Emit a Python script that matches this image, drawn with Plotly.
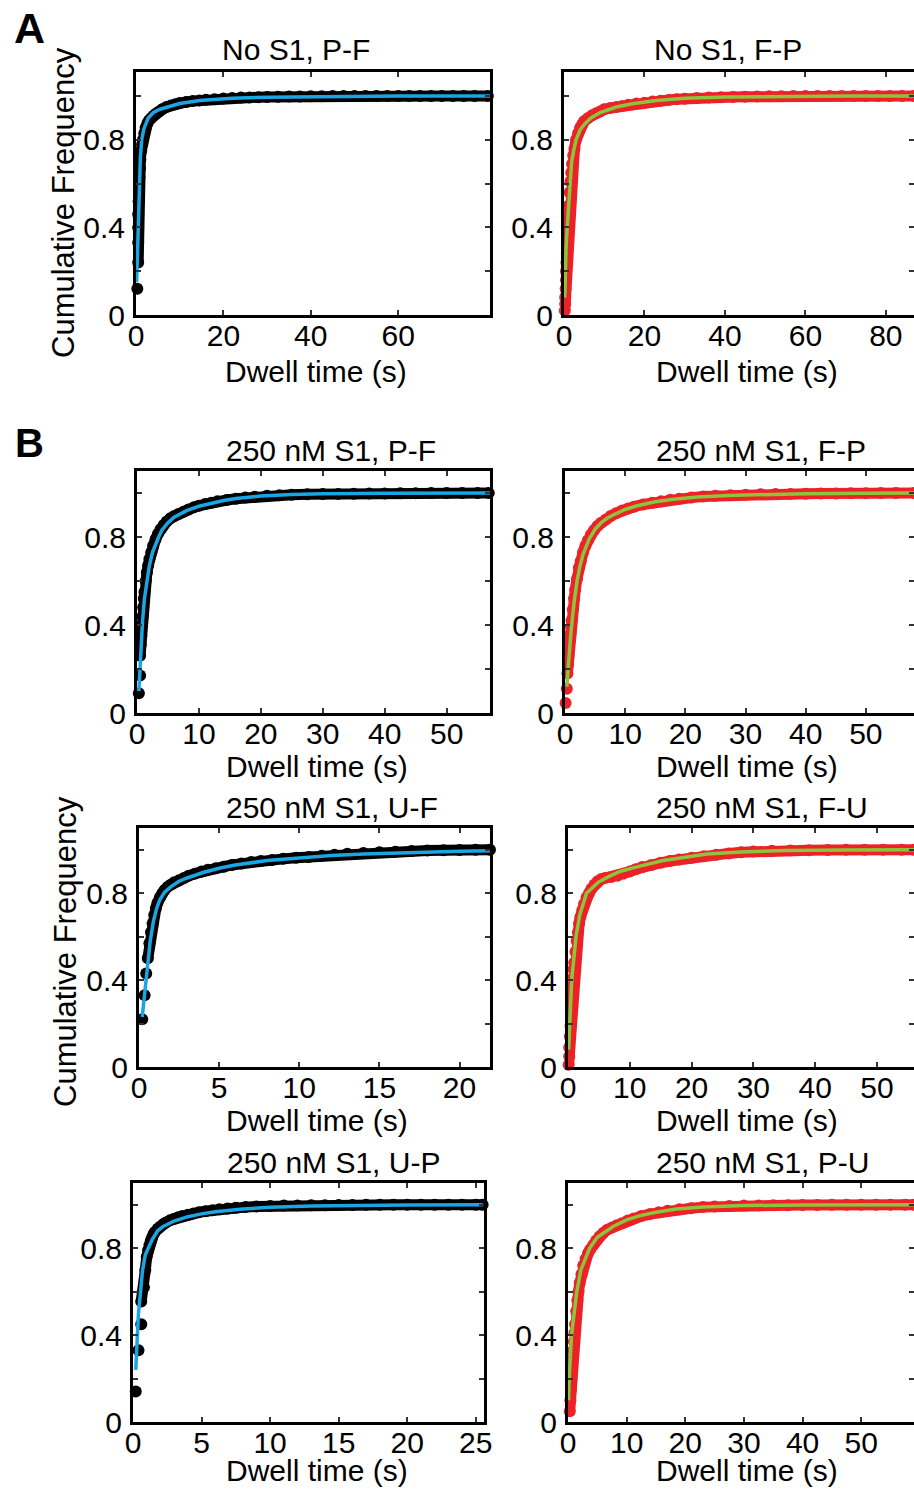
import plotly.graph_objects as go

W, H = 914, 1489
FONT = "Arial, 'Liberation Sans', Helvetica, sans-serif"

# ------------------------- data -------------------------
# A: No S1, P-F
a_pf_x = [0.3, 0.5, 0.5, 0.5, 0.5, 0.6, 0.7, 0.8, 0.9, 1.0,
          1.2, 1.4, 1.6, 1.9, 2.2, 2.6, 3.0, 3.5, 4.0, 4.6,
          5.3, 6.0, 7.0, 8.0, 9.0, 10, 11.5, 13, 14.5, 16,
          18, 20, 22, 24, 26, 28, 30, 32.5, 35, 37.5,
          40, 42.5, 45, 47.5, 50, 52.5, 55, 57.5, 60, 62.5,
          65, 67.5, 70, 72.5, 75, 77.5, 80.5]
a_pf_y = [0.12, 0.24, 0.33, 0.40, 0.46, 0.52, 0.58, 0.63, 0.67, 0.71,
          0.75, 0.78, 0.80, 0.83, 0.855, 0.875, 0.89, 0.90, 0.91, 0.92,
          0.93, 0.94, 0.95, 0.957, 0.963, 0.968, 0.973, 0.977, 0.98, 0.983,
          0.986, 0.989, 0.991, 0.993, 0.994, 0.995, 0.996, 0.997, 0.998, 0.998,
          0.999, 0.999, 1.0, 1.0, 1.0, 1.0, 1.0, 1.0, 1.0, 1.0,
          1.0, 1.0, 1.0, 1.0, 1.0, 1.0, 1.0]
a_pf_fit_x = [0.15, 0.35, 0.5, 0.7, 1.0, 1.3, 1.8, 2.8, 4.0, 5.5, 7.0, 10, 14.6, 22, 30, 45, 60, 81]
a_pf_fit_y = [0.15, 0.30, 0.42, 0.60, 0.72, 0.80, 0.85, 0.90, 0.925, 0.94, 0.95, 0.966, 0.98, 0.99, 0.995, 0.999, 1.0, 1.0]

# A: No S1, F-P
a_fp_x = [0.2, 0.3, 0.3, 0.4, 0.5, 0.5, 0.6, 0.7, 0.8, 0.9,
          1.0, 1.1, 1.2, 1.4, 1.6, 1.8, 2.0, 2.3, 2.6, 3.0,
          3.5, 4.0, 4.5, 5.0, 6.0, 7.0, 8.0, 9.0, 10, 11.5,
          13, 14.5, 16, 18, 20, 22, 24, 26, 28, 30,
          33, 36, 39, 42, 45, 48, 51, 54, 57, 60,
          63, 66, 69, 72, 75, 78, 81, 84, 87]
a_fp_y = [0.02, 0.05, 0.08, 0.12, 0.16, 0.20, 0.24, 0.28, 0.33, 0.38,
          0.42, 0.46, 0.50, 0.56, 0.61, 0.65, 0.69, 0.73, 0.76, 0.80,
          0.83, 0.855, 0.87, 0.885, 0.90, 0.912, 0.922, 0.93, 0.94, 0.945,
          0.95, 0.955, 0.96, 0.966, 0.97, 0.975, 0.979, 0.982, 0.985, 0.988,
          0.991, 0.993, 0.995, 0.996, 0.997, 0.998, 0.999, 0.999, 1.0, 1.0,
          1.0, 1.0, 1.0, 1.0, 1.0, 1.0, 1.0, 1.0, 1.0]
a_fp_fit_x = [0.2, 0.3, 0.5, 0.8, 1.1, 1.4, 1.9, 2.4, 3.0, 4.0, 5.0, 6.7, 9.0, 13, 17, 23, 30, 40, 55, 70, 87]
a_fp_fit_y = [0.08, 0.2, 0.3, 0.4, 0.5, 0.6, 0.7, 0.75, 0.8, 0.845, 0.87, 0.9, 0.925, 0.95, 0.965, 0.98, 0.99, 0.996, 0.999, 1.0, 1.0]

# B: 250 nM S1, P-F
b_pf_x = [0.3, 0.5, 0.5, 0.6, 0.7, 0.8, 0.9, 1.0, 1.1, 1.2,
          1.4, 1.6, 1.8, 2.0, 2.3, 2.6, 3.0, 3.4, 3.8, 4.3,
          4.8, 5.4, 6.0, 6.7, 7.5, 8.3, 9.2, 10, 11, 12,
          13, 14.5, 16, 17.5, 19, 21, 23, 25, 27.5, 30,
          32.5, 35, 37.5, 40, 42.5, 45, 47.5, 50, 52.5, 55,
          56.8]
b_pf_y = [0.09, 0.17, 0.26, 0.31, 0.35, 0.40, 0.44, 0.48, 0.52, 0.55,
          0.60, 0.64, 0.67, 0.70, 0.73, 0.76, 0.79, 0.815, 0.835, 0.855,
          0.87, 0.885, 0.895, 0.905, 0.915, 0.925, 0.935, 0.942, 0.95, 0.956,
          0.962, 0.968, 0.974, 0.979, 0.983, 0.987, 0.99, 0.992, 0.994, 0.995,
          0.996, 0.997, 0.998, 0.998, 0.999, 0.999, 1.0, 1.0, 1.0, 1.0,
          1.0]
b_pf_fit_x = [0.3, 0.6, 0.9, 1.2, 1.6, 2.0, 2.5, 3.0, 3.5, 4.0, 5.0, 6.0, 7.0, 8.0, 10, 12, 14, 16, 20, 25, 30, 40, 57]
b_pf_fit_y = [0.1, 0.3, 0.42, 0.52, 0.61, 0.67, 0.73, 0.77, 0.80, 0.83, 0.865, 0.89, 0.907, 0.92, 0.94, 0.955, 0.966, 0.975, 0.986, 0.993, 0.997, 0.999, 1.0]

# B: 250 nM S1, F-P
b_fp_x = [0.1, 0.3, 0.4, 0.5, 0.6, 0.7, 0.8, 0.9, 1.0, 1.1,
          1.3, 1.5, 1.7, 2.0, 2.3, 2.6, 3.0, 3.4, 3.8, 4.3,
          4.8, 5.4, 6.0, 6.8, 7.6, 8.5, 9.5, 10.5, 11.5, 13,
          14.5, 16, 17.5, 19, 21, 23, 25, 27.5, 30, 32.5,
          35, 37.5, 40, 42.5, 45, 47.5, 50, 52.5, 55, 58]
b_fp_y = [0.045, 0.11, 0.18, 0.22, 0.26, 0.30, 0.33, 0.36, 0.39, 0.42,
          0.47, 0.52, 0.56, 0.61, 0.66, 0.69, 0.73, 0.76, 0.785, 0.81,
          0.83, 0.85, 0.865, 0.88, 0.895, 0.908, 0.92, 0.93, 0.938, 0.948,
          0.956, 0.963, 0.969, 0.974, 0.979, 0.984, 0.987, 0.99, 0.992, 0.994,
          0.995, 0.996, 0.997, 0.998, 0.998, 0.999, 0.999, 1.0, 1.0, 1.0]
b_fp_fit_x = [0.3, 0.6, 1.0, 1.5, 2.0, 2.5, 3.0, 4.0, 5.0, 6.0, 7.0, 8.0, 10, 12, 15, 18, 22, 27, 33, 40, 50, 58]
b_fp_fit_y = [0.12, 0.24, 0.37, 0.5, 0.6, 0.67, 0.72, 0.79, 0.835, 0.865, 0.885, 0.9, 0.925, 0.942, 0.96, 0.972, 0.982, 0.989, 0.994, 0.997, 0.999, 1.0]

# B: 250 nM S1, U-F
b_uf_x = [0.2, 0.35, 0.45, 0.55, 0.65, 0.75, 0.85, 0.95, 1.05, 1.15,
          1.3, 1.45, 1.6, 1.8, 2.0, 2.2, 2.5, 2.8, 3.1, 3.5,
          3.9, 4.3, 4.8, 5.3, 5.8, 6.4, 7.0, 7.6, 8.3, 9.0,
          9.8, 10.6, 11.4, 12.2, 13, 14, 15, 16, 17, 18,
          19, 20, 21, 21.9]
b_uf_y = [0.22, 0.33, 0.43, 0.50, 0.57, 0.62, 0.66, 0.70, 0.73, 0.755,
          0.78, 0.80, 0.815, 0.83, 0.84, 0.85, 0.86, 0.87, 0.88, 0.89,
          0.90, 0.908, 0.915, 0.922, 0.93, 0.937, 0.943, 0.948, 0.953, 0.958,
          0.963, 0.967, 0.972, 0.977, 0.981, 0.985, 0.988, 0.991, 0.994, 0.996,
          0.998, 0.999, 1.0, 1.0]
b_uf_fit_x = [0.2, 0.3, 0.5, 0.7, 0.9, 1.1, 1.3, 1.6, 2.0, 2.5, 3.0, 4.0, 5.0, 6.0, 8.0, 10, 12, 14, 17, 20, 21.9]
b_uf_fit_y = [0.23, 0.3, 0.45, 0.58, 0.67, 0.73, 0.77, 0.805, 0.83, 0.855, 0.87, 0.895, 0.915, 0.93, 0.95, 0.963, 0.973, 0.98, 0.988, 0.993, 0.995]

# B: 250 nM S1, F-U
b_fu_x = [0.1, 0.2, 0.2, 0.3, 0.4, 0.5, 0.5, 0.6, 0.7, 0.8,
          0.9, 1.0, 1.2, 1.4, 1.6, 1.8, 2.0, 2.3, 2.6, 3.0,
          3.4, 3.8, 4.3, 4.8, 5.4, 6.0, 7.0, 8.0, 9.0, 10,
          11, 12, 13.5, 15, 16.5, 18, 20, 22, 24, 26,
          28, 30, 33, 36, 39, 42, 45, 48, 51, 54,
          56]
b_fu_y = [0.01, 0.05, 0.09, 0.14, 0.19, 0.24, 0.28, 0.33, 0.37, 0.41,
          0.45, 0.48, 0.53, 0.58, 0.62, 0.66, 0.69, 0.72, 0.75, 0.78,
          0.80, 0.82, 0.84, 0.855, 0.865, 0.87, 0.875, 0.88, 0.89, 0.90,
          0.91, 0.92, 0.93, 0.94, 0.948, 0.955, 0.963, 0.97, 0.977, 0.983,
          0.988, 0.992, 0.995, 0.997, 0.998, 0.999, 1.0, 1.0, 1.0, 1.0,
          1.0]
b_fu_fit_x = [0.1, 0.3, 0.6, 1.3, 1.9, 3.0, 4.9, 6.5, 8.4, 11, 15.4, 19, 22.5, 28, 35, 45, 56]
b_fu_fit_y = [0.08, 0.2, 0.4, 0.6, 0.7, 0.8, 0.85, 0.875, 0.9, 0.92, 0.95, 0.965, 0.98, 0.99, 0.996, 0.999, 1.0]

# B: 250 nM S1, U-P
b_up_x = [0.2, 0.4, 0.6, 0.6, 0.8, 0.9, 1.0, 1.1, 1.2, 1.3,
          1.4, 1.5, 1.6, 1.8, 2.0, 2.2, 2.4, 2.7, 3.0, 3.3,
          3.6, 4.0, 4.4, 4.8, 5.3, 5.8, 6.3, 6.9, 7.5, 8.2,
          9, 10, 11, 12, 13, 14, 15, 16, 17, 18,
          19, 20, 21, 22, 23, 24, 25, 25.5]
b_up_y = [0.14, 0.33, 0.45, 0.555, 0.62, 0.70, 0.76, 0.79, 0.815, 0.835,
          0.85, 0.865, 0.875, 0.89, 0.90, 0.91, 0.918, 0.928, 0.935, 0.942,
          0.948, 0.954, 0.96, 0.965, 0.97, 0.975, 0.979, 0.983, 0.986, 0.989,
          0.992, 0.994, 0.996, 0.997, 0.998, 0.998, 0.999, 0.999, 1.0, 1.0,
          1.0, 1.0, 1.0, 1.0, 1.0, 1.0, 1.0, 1.0]
b_up_fit_x = [0.2, 0.3, 0.4, 0.55, 0.7, 0.9, 1.1, 1.4, 1.8, 2.2, 3.0, 4.0, 5.0, 6.0, 8.0, 10, 13, 16, 20, 25.5]
b_up_fit_y = [0.24, 0.4, 0.5, 0.6, 0.7, 0.77, 0.8, 0.84, 0.88, 0.9, 0.925, 0.945, 0.958, 0.968, 0.98, 0.988, 0.994, 0.997, 0.999, 1.0]

# B: 250 nM S1, P-U
b_pu_x = [0.3, 0.4, 0.5, 0.6, 0.7, 0.8, 0.9, 1.0, 1.1, 1.2,
          1.4, 1.6, 1.8, 2.0, 2.3, 2.6, 3.0, 3.4, 3.8, 4.3,
          4.8, 5.4, 6.0, 6.7, 7.5, 8.3, 9.2, 10.2, 11.2, 12.5,
          14, 15.5, 17, 19, 21, 23, 25, 27.5, 30, 32.5,
          35, 37.5, 40, 42.5, 45, 47.5, 50, 52.5, 55, 57.5,
          59]
b_pu_y = [0.05, 0.10, 0.15, 0.20, 0.25, 0.29, 0.33, 0.37, 0.41, 0.45,
          0.51, 0.56, 0.60, 0.64, 0.68, 0.72, 0.75, 0.775, 0.795, 0.815,
          0.835, 0.855, 0.87, 0.885, 0.895, 0.905, 0.915, 0.927, 0.937, 0.948,
          0.957, 0.965, 0.972, 0.979, 0.984, 0.989, 0.992, 0.994, 0.996, 0.997,
          0.998, 0.998, 0.999, 0.999, 1.0, 1.0, 1.0, 1.0, 1.0, 1.0,
          1.0]
b_pu_fit_x = [0.1, 0.2, 0.6, 1.0, 1.5, 2.2, 3.7, 5.0, 7.7, 10, 12.3, 15, 18.5, 23, 30, 40, 59]
b_pu_fit_y = [0.1, 0.2, 0.4, 0.5, 0.6, 0.7, 0.8, 0.85, 0.9, 0.93, 0.95, 0.965, 0.98, 0.99, 0.996, 0.999, 1.0]

y_tickvals = [0, 0.2, 0.4, 0.6, 0.8, 1.0]
y_ticktext = ["0", "", "0.4", "", "0.8", ""]

# ------------------------- styling / layout -------------------------
BLACK_DOT = "#000000"
BLUE_FIT = "#1aa6e4"
RED_DOT = "#ec2228"
GREEN_FIT = "#8cc43c"
FS = 30

# box: (x_left_px, x_right_px, y_top_px, y_bottom_px)
panels = [
    dict(title="No S1, P-F", x=a_pf_x, y=a_pf_y, fx=a_pf_fit_x, fy=a_pf_fit_y, dot=BLACK_DOT, fit=BLUE_FIT,
         box=(136, 490, 72, 315), xr=[0, 81], yr=[0, 1.11], xt=[0, 20, 40, 60], k=1,
         tpos=(296, 50), xlpos=(316, 371)),
    dict(title="No S1, F-P", x=a_fp_x, y=a_fp_y, fx=a_fp_fit_x, fy=a_fp_fit_y, dot=RED_DOT, fit=GREEN_FIT,
         box=(564, 914, 72, 315), xr=[0, 87], yr=[0, 1.11], xt=[0, 20, 40, 60, 80], k=0,
         tpos=(728, 50), xlpos=(747, 371)),
    dict(title="250 nM S1, P-F", x=b_pf_x, y=b_pf_y, fx=b_pf_fit_x, fy=b_pf_fit_y, dot=BLACK_DOT, fit=BLUE_FIT,
         box=(137, 490, 471, 713), xr=[0, 57], yr=[0, 1.1], xt=[0, 10, 20, 30, 40, 50], k=2,
         tpos=(331, 450), xlpos=(317, 767)),
    dict(title="250 nM S1, F-P", x=b_fp_x, y=b_fp_y, fx=b_fp_fit_x, fy=b_fp_fit_y, dot=RED_DOT, fit=GREEN_FIT,
         box=(565, 914, 471, 713), xr=[0, 58], yr=[0, 1.1], xt=[0, 10, 20, 30, 40, 50], k=2,
         tpos=(761, 450), xlpos=(747, 767)),
    dict(title="250 nM S1, U-F", x=b_uf_x, y=b_uf_y, fx=b_uf_fit_x, fy=b_uf_fit_y, dot=BLACK_DOT, fit=BLUE_FIT,
         box=(139, 490, 828, 1067), xr=[0, 21.9], yr=[0, 1.1], xt=[0, 5, 10, 15, 20], k=3,
         tpos=(332, 808), xlpos=(317, 1120)),
    dict(title="250 nM S1, F-U", x=b_fu_x, y=b_fu_y, fx=b_fu_fit_x, fy=b_fu_fit_y, dot=RED_DOT, fit=GREEN_FIT,
         box=(568, 914, 828, 1067), xr=[0, 56], yr=[0, 1.1], xt=[0, 10, 20, 30, 40, 50], k=0,
         tpos=(762, 808), xlpos=(747, 1120)),
    dict(title="250 nM S1, U-P", x=b_up_x, y=b_up_y, fx=b_up_fit_x, fy=b_up_fit_y, dot=BLACK_DOT, fit=BLUE_FIT,
         box=(133, 484, 1183, 1422), xr=[0, 25.6], yr=[0, 1.1], xt=[0, 5, 10, 15, 20, 25], k=3,
         tpos=(333, 1162), xlpos=(317, None)),
    dict(title="250 nM S1, P-U", x=b_pu_x, y=b_pu_y, fx=b_pu_fit_x, fy=b_pu_fit_y, dot=RED_DOT, fit=GREEN_FIT,
         box=(568, 914, 1183, 1422), xr=[0, 59], yr=[0, 1.1], xt=[0, 10, 20, 30, 40, 50], k=0,
         tpos=(762, 1162), xlpos=(747, None)),
]


def px(xpix):
    return xpix / W


def py(ypix):
    return 1 - ypix / H


fig = go.Figure()
annotations = []
layout = dict(
    template="none",
    width=W, height=H, margin=dict(l=0, r=0, t=0, b=0, pad=0, autoexpand=False),
    paper_bgcolor="white", plot_bgcolor="white", showlegend=False,
    font=dict(family=FONT, size=FS, color="black"),
)

MS = 12
for i, p in enumerate(panels, start=1):
    xa = "x" if i == 1 else f"x{i}"
    ya = "y" if i == 1 else f"y{i}"
    x0, x1, yt, yb = p["box"]
    axis_common = dict(
        showline=True, linecolor="black", linewidth=3, mirror="ticks",
        ticks="inside", ticklen=5, tickwidth=1.5, tickcolor="#333333",
        showgrid=False, zeroline=False, fixedrange=True, automargin=False,
        tickfont=dict(family=FONT, size=FS, color="black"),
    )
    layout["xaxis" if i == 1 else f"xaxis{i}"] = dict(
        axis_common, domain=[px(x0), min(px(x1), 1.0)], range=p["xr"],
        anchor=ya, tickvals=p["xt"], ticktext=[str(v) for v in p["xt"]],
        ticklabelstandoff=-8,
    )
    layout["yaxis" if i == 1 else f"yaxis{i}"] = dict(
        axis_common, domain=[py(yb), py(yt)], range=p["yr"],
        anchor=xa, tickvals=y_tickvals, ticktext=y_ticktext,
        ticklabelstandoff=2,
    )
    k = p["k"]
    if k > 0:
        fig.add_trace(go.Scatter(
            x=p["x"][:k], y=p["y"][:k], xaxis=xa, yaxis=ya, mode="markers",
            marker=dict(size=MS, color=p["dot"], line=dict(width=0)),
            cliponaxis=False, hoverinfo="skip"))
    fig.add_trace(go.Scatter(
        x=p["x"][k:], y=p["y"][k:], xaxis=xa, yaxis=ya, mode="lines+markers",
        line=dict(color=p["dot"], width=11),
        marker=dict(size=MS, color=p["dot"], line=dict(width=0)),
        cliponaxis=False, hoverinfo="skip"))
    fig.add_trace(go.Scatter(
        x=p["fx"], y=p["fy"], xaxis=xa, yaxis=ya, mode="lines",
        line=dict(color=p["fit"], width=3.5),
        cliponaxis=False, hoverinfo="skip"))

    tx, ty = p["tpos"]
    annotations.append(dict(text=p["title"], x=px(tx), y=py(ty), xref="paper", yref="paper",
                            xanchor="center", yanchor="middle", showarrow=False,
                            font=dict(family=FONT, size=FS, color="black")))
    lx, ly = p["xlpos"]
    if ly is None:
        # bottom row: sit the label on the lower page edge
        ypos, yanc = 0.0, "bottom"
    else:
        ypos, yanc = py(ly), "middle"
    annotations.append(dict(text="Dwell time (s)", x=px(lx), y=ypos, xref="paper", yref="paper",
                            xanchor="center", yanchor=yanc, showarrow=False,
                            font=dict(family=FONT, size=FS, color="black")))

for (cx, cy) in [(64, 203), (65, 952)]:
    annotations.append(dict(text="Cumulative Frequency", x=px(cx), y=py(cy), xref="paper", yref="paper",
                            xanchor="center", yanchor="middle", textangle=-90, showarrow=False,
                            font=dict(family=FONT, size=31, color="black")))

annotations.append(dict(text="<b>A</b>", x=px(29), y=py(28), xref="paper", yref="paper",
                        xanchor="center", yanchor="middle", showarrow=False,
                        font=dict(family=FONT, size=43, color="black")))
annotations.append(dict(text="<b>B</b>", x=px(29), y=py(443), xref="paper", yref="paper",
                        xanchor="center", yanchor="middle", showarrow=False,
                        font=dict(family=FONT, size=40, color="black")))

layout["annotations"] = annotations
fig.update_layout(**layout)
fig.write_html(
    "out.html",
    config={"displayModeBar": False},
    post_script="document.body.style.margin='0px';document.body.style.padding='0px';"
                "document.body.style.overflow='hidden';",
)
